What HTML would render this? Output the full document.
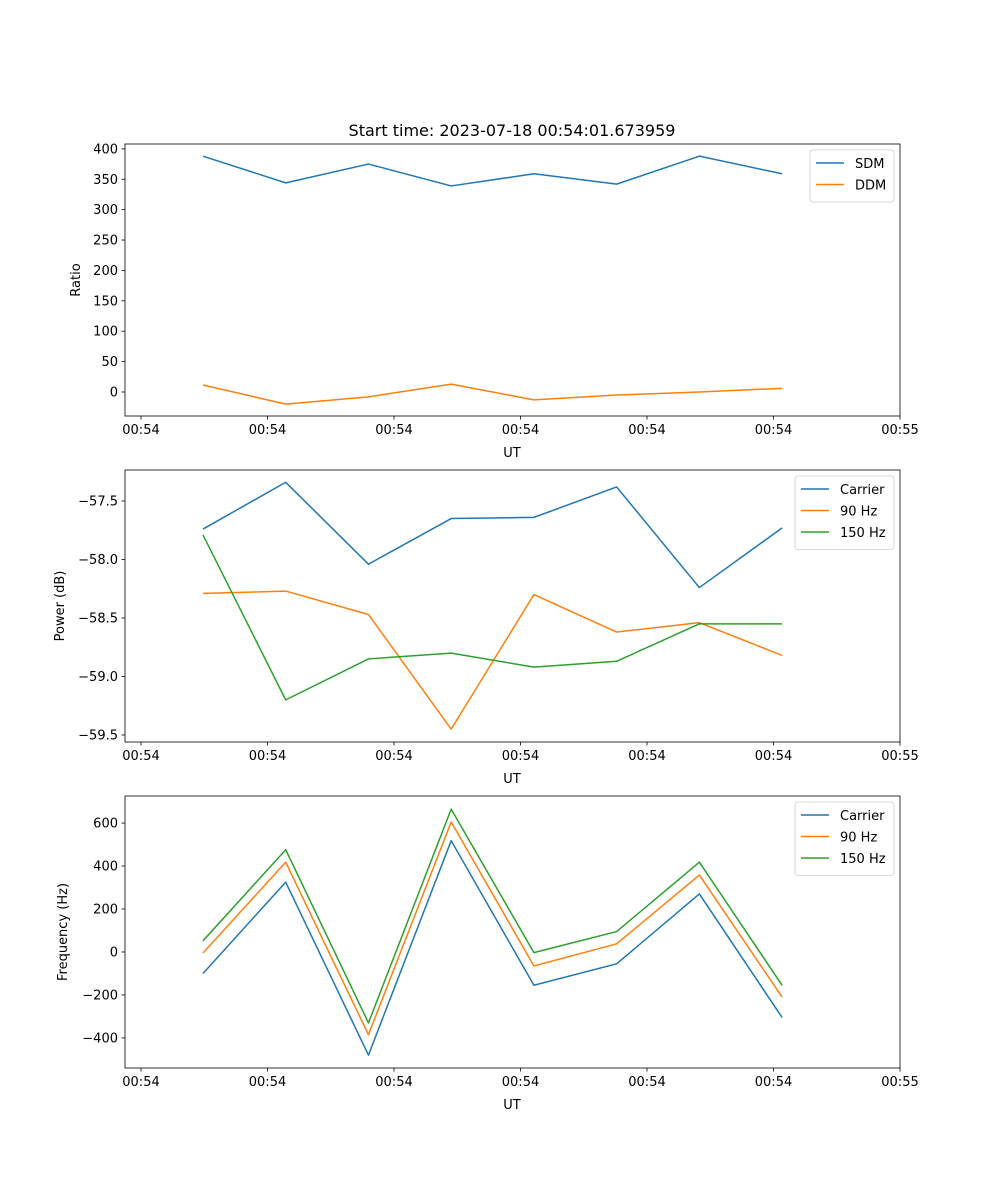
<!DOCTYPE html>
<html><head><meta charset="utf-8"><style>
body{margin:0;background:#fff}
svg{display:block;font-family:"DejaVu Sans","Liberation Sans",sans-serif}
</style></head><body>
<svg id="fig" width="1000" height="1200" xmlns="http://www.w3.org/2000/svg">
<text x="512" y="136" font-size="16" text-anchor="middle">Start time: 2023-07-18 00:54:01.673959</text>
</svg>
<script>
const xTimes = [4.9, 11.44, 17.98, 24.52, 31.06, 37.6, 44.14, 50.68];
const xTickValues = [0, 10, 20, 30, 40, 50, 60];
const xTickLabels = ["00:54","00:54","00:54","00:54","00:54","00:54","00:55"];
const sdm = [388, 344, 375, 339, 359, 342, 388, 359];
const ddm = [11.5, -20, -8, 13, -13, -5, 0, 6];
const powCarrier = [-57.74, -57.34, -58.04, -57.65, -57.64, -57.38, -58.24, -57.73];
const pow90 = [-58.29, -58.27, -58.47, -59.45, -58.30, -58.62, -58.54, -58.82];
const pow150 = [-57.79, -59.2, -58.85, -58.80, -58.92, -58.87, -58.55, -58.55];
const freqCarrier = [-100, 325, -480, 518, -155, -55, 270, -305];
const freq90 = [-5, 418, -385, 605, -65, 38, 358, -210];
const freq150 = [52, 476, -330, 665, -3, 95, 418, -155];
const ratioTicks = [0, 50, 100, 150, 200, 250, 300, 350, 400];
const powTicks = [-59.5, -59.0, -58.5, -58.0, -57.5];
const freqTicks = [-400, -200, 0, 200, 400, 600];

const NS = "http://www.w3.org/2000/svg";
const svg = document.getElementById('fig');
function el(tag, attrs, parent){const e=document.createElementNS(NS,tag);for(const k in attrs)e.setAttribute(k,attrs[k]);(parent||svg).appendChild(e);return e;}
const L=125,R=900;
function xs(v){return 141+(v)*(900-141)/60;}
function fmt(v,dec){let s=v.toFixed(dec);return s.replace('-','\u2212');}

function panel(name, top, bottom, ymin, ymax, ticks, dec, ylabel, series, legend){
  const g=el('g',{});
  
  
  const ys=v=>bottom-(v-ymin)/(ymax-ymin)*(bottom-top);
  // series
  series.forEach(s=>{
    const p=el('polyline',{points:s.data.map((v,i)=>xs(xTimes[i])+','+ys(v)).join(' '),fill:'none',stroke:s.color,'stroke-width':1.5,'stroke-linejoin':'round'},g);
    
    
  });
  const fr=el('rect',{x:L,y:top,width:R-L,height:bottom-top,fill:'none',stroke:'#000','stroke-width':0.8},g);
  
  
  xTickValues.forEach((v,i)=>{
    const x=xs(v);
    el('line',{x1:x,x2:x,y1:bottom,y2:bottom+3.5,stroke:'#000','stroke-width':0.8},g);
    const t=el('text',{x:x,y:bottom+18,'font-size':13,'text-anchor':'middle'},g);
    t.textContent=xTickLabels[i];
    
    
  });
  const xl=el('text',{x:512,y:bottom+41,'font-size':13,'text-anchor':'middle'},g);
  xl.textContent='UT';
  
  
  ticks.forEach(v=>{
    const y=ys(v);
    el('line',{x1:L-3.5,x2:L,y1:y,y2:y,stroke:'#000','stroke-width':0.8},g);
    const t=el('text',{x:L-7,y:y+4.5,'font-size':13,'text-anchor':'end'},g);
    t.textContent=fmt(v,dec);
    
    
  });
  const yl=el('text',{x:0,y:0,'font-size':13,'text-anchor':'middle',transform:`translate(${legend.ylx},${(top+bottom)/2}) rotate(-90)`},g);
  yl.textContent=ylabel;
  
  
  // legend
  const lg=el('g',{},g);
  
  
  el('rect',{x:legend.x,y:top+6,width:R-6-legend.x,height:series.length*21.5+9,rx:3,fill:'#fff','fill-opacity':0.8,stroke:'#ccc','stroke-width':0.8},lg);
  series.forEach((s,i)=>{
    const y=top+19+i*21.5;
    el('line',{x1:legend.x+6,x2:legend.x+34,y1:y,y2:y,stroke:s.color,'stroke-width':1.5},lg);
    const t=el('text',{x:legend.x+45,y:y+5,'font-size':13},lg);
    t.textContent=s.label;
    
    
  });
}
panel('ratio',144,416,-39.5,408,ratioTicks,0,'Ratio',
  [{key:'sdm',label:'SDM',color:'#1f77b4',data:sdm},{key:'ddm',label:'DDM',color:'#ff7f0e',data:ddm}],{x:810,ylx:80});
panel('power',470,742,-59.56,-57.235,powTicks,1,'Power (dB)',
  [{key:'carrier',label:'Carrier',color:'#1f77b4',data:powCarrier},{key:'90hz',label:'90 Hz',color:'#ff7f0e',data:pow90},{key:'150hz',label:'150 Hz',color:'#2ca02c',data:pow150}],{x:795,ylx:64});
panel('frequency',796,1068,-540,726,freqTicks,0,'Frequency (Hz)',
  [{key:'carrier',label:'Carrier',color:'#1f77b4',data:freqCarrier},{key:'90hz',label:'90 Hz',color:'#ff7f0e',data:freq90},{key:'150hz',label:'150 Hz',color:'#2ca02c',data:freq150}],{x:795,ylx:67});
</script>
</body></html>
